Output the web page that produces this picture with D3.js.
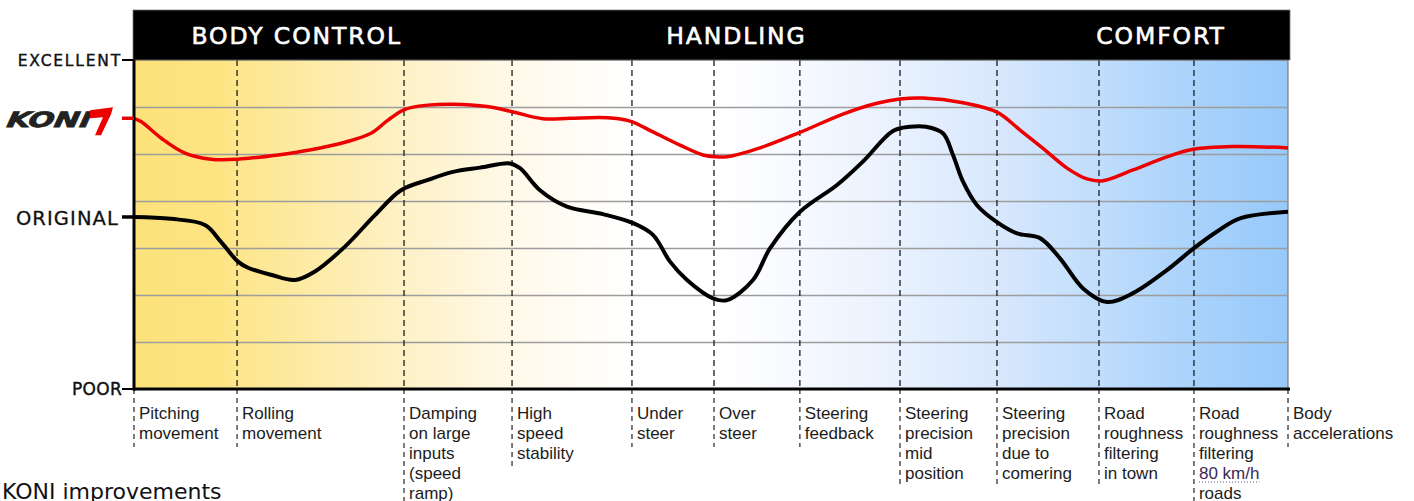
<!DOCTYPE html>
<html><head><meta charset="utf-8">
<script src="https://cdn.jsdelivr.net/npm/d3@7"></script>
<style>body{margin:0;background:#fff;} svg{display:block}</style>
</head><body><svg id="chart" width="1414" height="501"></svg>
<script>
// ---- data ----
const sections = ["BODY CONTROL", "HANDLING", "COMFORT"];
const sectionCenters = [14.1, 52.2, 89.0];           // position along axis, % of width
const criteria = [
  ["Pitching","movement"], ["Rolling","movement"],
  ["Damping","on large","inputs","(speed","ramp)"],
  ["High","speed","stability"], ["Under","steer"], ["Over","steer"],
  ["Steering","feedback"], ["Steering","precision","mid","position"],
  ["Steering","precision","due to","comering"],
  ["Road","roughness","filtering","in town"],
  ["Road","roughness","filtering","80 km/h","roads"],
  ["Body","accelerations"]
];
const criteriaStart = [0, 8.93, 23.4, 32.76, 43.15, 50.26, 57.7, 66.38, 74.78, 83.62, 91.85, 100];
const ratingLabels = ["POOR", "ORIGINAL", "KONI", "EXCELLENT"];
const ratingValues = [0, 3.66, 5.76, 7];
const gridValues = [1, 2, 3, 4, 5, 6];

const koniX = [0,0.61,2.34,4.42,6.67,9.01,12.48,15.34,18.28,20.54,22.01,23.48,25.48,27.64,30.59,32.76,35.44,37.78,40.99,42.98,44.97,47.31,49.31,50.52,51.39,54.25,57.71,61.44,64.38,66.38,68.37,71.84,74.78,76.78,78.77,80.85,82.58,83.97,86.57,89.51,91.77,95.23,100];
const koniY = [5.76,5.69,5.34,5.02,4.89,4.89,4.98,5.09,5.25,5.44,5.72,5.95,6.04,6.06,6.01,5.90,5.75,5.76,5.77,5.70,5.47,5.19,4.98,4.94,4.94,5.13,5.46,5.85,6.08,6.17,6.19,6.09,5.89,5.51,5.12,4.70,4.47,4.43,4.66,4.94,5.10,5.16,5.13];

const originalX = [0,3.21,6.15,7.54,9.01,9.88,11.87,13.95,15.68,18.28,20.88,23.14,25.48,27.64,29.98,32.58,33.45,35.18,37.52,40.64,43.24,44.97,46.45,47.92,50.17,51.39,53.64,55.11,57.71,60.92,63.17,65.77,67.24,68.63,70.1,70.97,71.84,73.05,74.78,76.52,78.51,80.24,82.24,84.32,86.57,89.51,91.77,93.85,95.84,100];
const originalY = [3.66,3.62,3.49,3.13,2.71,2.58,2.43,2.32,2.50,3.03,3.70,4.23,4.45,4.62,4.71,4.80,4.70,4.23,3.88,3.72,3.53,3.28,2.71,2.32,1.93,1.89,2.32,2.99,3.77,4.34,4.84,5.49,5.58,5.58,5.44,4.98,4.41,3.91,3.55,3.31,3.21,2.78,2.14,1.85,2.04,2.53,2.98,3.35,3.63,3.77];

// ---- layout ----
const W = 1414, H = 501;
const margin = {top: 60, right: 126, bottom: 112, left: 134};
const svg = d3.select("#chart");
const x = d3.scaleLinear().domain([0, 100]).range([margin.left, W - margin.right]);
const y = d3.scaleLinear().domain([0, 7]).range([H - margin.bottom, margin.top]);
const x0 = x(0), x1 = x(100), yTop = y(7), yBot = y(0);

// background gradient
const defs = svg.append("defs");
const grad = defs.append("linearGradient").attr("id", "bg").attr("x1", "0").attr("x2", "1").attr("y1", "0").attr("y2", "0");
[[0,"#fde27b"],[7,"#fde481"],[9,"#fde68c"],[23.4,"#fef1c6"],[33,"#fff9ea"],[43,"#ffffff"],[51,"#ffffff"],[57.7,"#f6f9ff"],[66.4,"#e8f1fe"],[74.8,"#d8e8fd"],[83.6,"#c0ddfc"],[91.9,"#a9d2fb"],[100,"#97c9fa"]]
  .forEach(([o,c]) => grad.append("stop").attr("offset", o + "%").attr("stop-color", c));

svg.append("rect").attr("x", x0).attr("y", yTop).attr("width", x1 - x0).attr("height", yBot - yTop)
  .attr("fill", "url(#bg)").attr("stroke", "#666").attr("stroke-width", 1);

// gridlines
svg.append("g").attr("transform", `translate(${x0},0)`)
  .call(d3.axisLeft(y).tickValues(gridValues).tickSize(-(x1 - x0)).tickFormat(""))
  .call(g => g.select(".domain").remove())
  .call(g => g.selectAll("line").attr("stroke", "#9d9d9d").attr("stroke-width", 1.5));

// vertical dashed separators inside plot
svg.append("g").selectAll("line").data(criteriaStart.slice(1, -1)).join("line")
  .attr("x1", d => x(d)).attr("x2", d => x(d)).attr("y1", yTop).attr("y2", yBot)
  .attr("stroke", "#2a2a2a").attr("stroke-width", 1.4).attr("stroke-dasharray", "6,4");

// dashed separators below axis + labels
const lineH = 20, firstBase = yBot + 30;
const lab = svg.append("g").attr("font-family", "'Liberation Sans', Arial, sans-serif").attr("font-size", 17).attr("fill", "#1c1c1c");
criteria.forEach((lines, i) => {
  const xs = x(criteriaStart[i]);
  const end = Math.min(H, firstBase + (lines.length - 1) * lineH + 8);
  svg.append("line").attr("x1", xs).attr("x2", xs).attr("y1", yBot).attr("y2", end)
    .attr("stroke", "#444").attr("stroke-width", 1.4).attr("stroke-dasharray", "5,4");
  lines.forEach((t, j) => {
    const tx = lab.append("text").attr("x", xs + 5).attr("y", firstBase + j * lineH).text(t);
    if (t === "80 km/h") {
      tx.attr("fill", "#3a2a55");
      const bb = tx.node().getBBox();
      svg.append("line").attr("x1", bb.x).attr("x2", bb.x + bb.width).attr("y1", firstBase + j * lineH + 3).attr("y2", firstBase + j * lineH + 3)
        .attr("stroke", "#5a4a80").attr("stroke-width", 1).attr("stroke-dasharray", "1,2");
    }
  });
});

// title bar
svg.append("rect").attr("x", x0 - 1).attr("y", yTop - 50).attr("width", x1 - x0 + 3).attr("height", 50)
  .attr("fill", "#000").attr("stroke", "#777").attr("stroke-width", 0.8);
svg.append("g").selectAll("text").data(sections).join("text")
  .attr("x", (d, i) => x(sectionCenters[i])).attr("y", yTop - 16)
  .attr("text-anchor", "middle").attr("fill", "#fff")
  .attr("font-family", "'DejaVu Sans', sans-serif").attr("font-size", 23.5).attr("letter-spacing", 1.9)
  .attr("stroke", "#fff").attr("stroke-width", 0.6)
  .text(d => d);

// curves
const line = d3.line().x(d => x(d[0])).y(d => y(d[1])).curve(d3.curveCatmullRom.alpha(0.5));
svg.append("path").datum(originalX.map((v, i) => [v, originalY[i]]))
  .attr("d", line).attr("fill", "none").attr("stroke", "#000").attr("stroke-width", 4).attr("stroke-linejoin", "round");
svg.append("path").datum(koniX.map((v, i) => [v, koniY[i]]))
  .attr("d", line).attr("fill", "none").attr("stroke", "#ec0000").attr("stroke-width", 3.5).attr("stroke-linejoin", "round");

// axes lines
svg.append("line").attr("x1", x0).attr("x2", x0).attr("y1", yTop).attr("y2", yBot + 1.5).attr("stroke", "#000").attr("stroke-width", 3);
svg.append("line").attr("x1", x0 - 1).attr("x2", x1 + 2).attr("y1", yBot).attr("y2", yBot).attr("stroke", "#000").attr("stroke-width", 3);

// rating labels and ticks
const tickColor = ["#000", "#000", "#ec0000", "#000"];
const tickW = [2, 3.5, 3.5, 2];
ratingValues.forEach((v, i) => {
  svg.append("line").attr("x1", x0 - 12).attr("x2", x0).attr("y1", y(v)).attr("y2", y(v))
    .attr("stroke", tickColor[i]).attr("stroke-width", tickW[i]);
});
const yl = svg.append("g").attr("font-family", "'DejaVu Sans', sans-serif").attr("fill", "#111").attr("text-anchor", "end");
yl.append("text").attr("x", x0 - 12).attr("y", y(ratingValues[3]) + 6).attr("font-size", 15.5).attr("letter-spacing", 1.8)
  .attr("stroke", "#111").attr("stroke-width", 0.4).text(ratingLabels[3]);
yl.append("text").attr("x", x0 - 15).attr("y", y(ratingValues[1]) + 8).attr("font-size", 19.5).attr("letter-spacing", 1.1)
  .attr("stroke", "#111").attr("stroke-width", 0.3).text(ratingLabels[1]);
yl.append("text").attr("x", x0 - 12).attr("y", y(ratingValues[0]) + 6).attr("font-size", 17).attr("letter-spacing", 0.3)
  .attr("stroke", "#111").attr("stroke-width", 0.4).text(ratingLabels[0]);

// KONI logo
const ky = y(ratingValues[2]);
svg.append("text").attr("x", 6).attr("y", ky + 9)
  .attr("font-family", "'DejaVu Sans', sans-serif").attr("font-weight", "bold").attr("font-style", "italic")
  .attr("font-size", 21).attr("fill", "#222").attr("stroke", "#222").attr("stroke-width", 0.8)
  .attr("textLength", 84).attr("lengthAdjust", "spacingAndGlyphs")
  .attr("transform", `skewX(-10) translate(${(ky + 9) * 0.176},0)`)
  .text(ratingLabels[2]);
svg.append("path")
  .attr("d", `M90,${ky - 8} L113,${ky - 11} L111,${ky - 4} L101,${ky + 17} L95,${ky + 17} L103,${ky - 1} L90,${ky} Z`)
  .attr("fill", "#ec0000");

// footer
svg.append("text").attr("x", 2).attr("y", 499).attr("font-family", "'DejaVu Sans', sans-serif")
  .attr("font-size", 22).attr("fill", "#111").text("KONI improvements");
</script></body></html>
